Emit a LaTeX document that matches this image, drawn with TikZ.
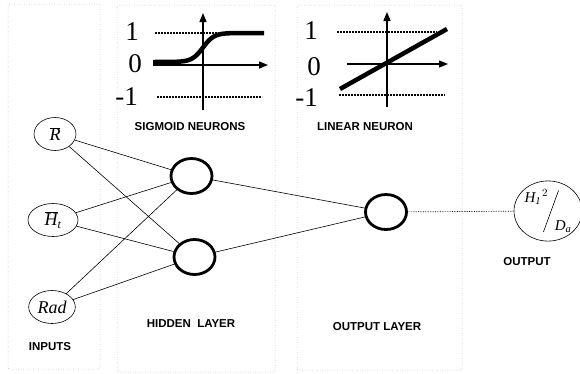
\documentclass[tikz,border=0pt]{standalone}
\usepackage{fontspec}
\setmainfont{Liberation Serif}
\newfontfamily\capfont{Liberation Sans}
\usepackage{graphicx}
\usetikzlibrary{arrows.meta,shapes.geometric}
\tikzset{
  panel/.style    ={draw=black!40,line width=0.5pt,dotted,rounded corners=2pt},
  innode/.style   ={ellipse,draw=black,line width=0.6pt,inner sep=2pt,
                    minimum width=42pt,minimum height=33pt,
                    font=\fontsize{18}{18}\selectfont\itshape},
  neuron/.style   ={ellipse,draw=black,line width=2.8pt,
                    minimum width=41pt,minimum height=35pt},
  outnode/.style  ={ellipse,draw=black,line width=0.6pt,inner sep=0pt,
                    minimum width=68pt,minimum height=56pt,
                    font=\fontsize{15}{15}\selectfont\itshape},
  lyrlbl/.style   ={font=\capfont\bfseries\fontsize{11.5}{12}\selectfont},
  ticklbl/.style  ={font=\fontsize{27}{27}\selectfont,anchor=east,inner sep=0pt},
  plotaxis/.style ={-{Triangle[length=9pt,width=7pt]},line width=1.4pt},
  bound/.style    ={dash pattern=on 2pt off 1pt,line width=1.4pt},
  actfun/.style   ={line width=4.5pt},
  syn/.style      ={line width=0.6pt},
  synout/.style   ={line width=0.7pt,densely dotted},
}
\begin{document}
\begin{tikzpicture}[x=1pt,y=-1pt]
\useasboundingbox (0,0) rectangle (580,373);
% layer panels
\draw[panel] (8,4) rectangle (100,369);
\draw[panel] (117,5) rectangle (275,372);
\draw[panel] (297,5) rectangle (462,370);

% sigmoid activation
\draw[bound] (155,33) -- (262,33);
\draw[bound] (157,97) -- (262,97);
\draw[plotaxis] (203,110) -- (203,13);
\draw[plotaxis] (153,65) -- (268,65);
\draw[actfun] plot[domain=153:264,samples=60] (\x,{47.5-14.5*tanh((\x-203)/11)});
\node[ticklbl] (sone)  at (139,32) {1};
\node[ticklbl] (szero) at (142,64) {0};
\node[ticklbl] (sneg)  at (138,97) {-1};

% linear activation
\draw[bound] (337,32) -- (437,32);
\draw[bound] (339,95) -- (445,95);
\draw[plotaxis] (387,107) -- (387,12);
\draw[plotaxis] (347,64) -- (448,64);
\draw[actfun] (340,89) -- (447,29);
\node[ticklbl] (lone)  at (318,31) {1};
\node[ticklbl] (lzero) at (321,67) {0};
\node[ticklbl] (lneg)  at (318,98) {-1};

% captions
\node[lyrlbl] (sigcap) at (190,127)   {SIGMOID NEURONS};
\node[lyrlbl] (lincap) at (365,127)   {LINEAR NEURON};
\node[lyrlbl] (hidcap) at (191,324)   {HIDDEN\ \ LAYER};
\node[lyrlbl] (incap)  at (50,346.5)  {INPUTS};
\node[lyrlbl] (olcap)  at (377,326.5) {OUTPUT LAYER};
\node[lyrlbl] (outcap) at (527,262)   {OUTPUT};

% inputs
\node[innode] (rbar) at (55,134) {$\overline{\mbox{R}}$};
\node[innode,minimum width=50pt] (hbar) at (53,220)
  {$\overline{\mbox{H}}_{\mbox{\fontsize{12}{12}\selectfont t}}$};
\node[innode] (rad) at (52,307) {Rad};

% neurons
\node[neuron] (hid1) at (191.5,176) {};
\node[neuron] (hid2) at (194.5,257) {};
\node[neuron] (onet) at (386,212) {};

% output
\node[outnode] (out) at (548,211)
  {\raisebox{28pt}{H$_{\mathit{1}}$\kern1pt$^{2}$}\kern-5pt%
   \raisebox{-2pt}{\rotatebox{70}{\rule{44pt}{0.6pt}}}\kern-4pt%
   D$_{\mathit{a}}$};

% connections
\draw[syn] (rbar) -- (hid1);
\draw[syn] (rbar) -- (hid2);
\draw[syn] (hbar) -- (hid1);
\draw[syn] (hbar) -- (hid2);
\draw[syn] (rad) -- (hid1);
\draw[syn] (rad) -- (hid2);
\draw[syn] (hid1) -- (onet);
\draw[syn] (hid2) -- (onet);
\draw[synout] (onet) -- (out);
\end{tikzpicture}
\end{document}
